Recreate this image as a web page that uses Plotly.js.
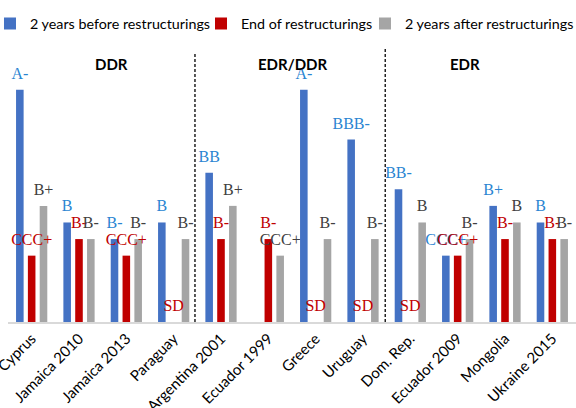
<!DOCTYPE html>
<html>
<head>
<meta charset="utf-8">
<script src="https://cdn.plot.ly/plotly-3.0.1.min.js"></script>
<style>html,body{margin:0;padding:0;background:#fff;}#chart{width:576px;height:408px;}</style>
</head>
<body>
<div id="chart"></div>
<script>
// Categories (restructuring episodes)
const categories = ['Cyprus','Jamaica 2010','Jamaica 2013','Paraguay','Argentina 2001','Ecuador 1999','Greece','Uruguay','Dom. Rep.','Ecuador 2009','Mongolia','Ukraine 2015'];

// Ratings (labels) per series
const ratingsBefore = ['A-','B','B-','B','BB','','A-','BBB-','BB-','CCC+','B+','B'];
const ratingsEnd    = ['CCC+','B-','CCC+','SD','B-','B-','SD','SD','SD','CCC+','B-','B-'];
const ratingsAfter  = ['B+','B-','B-','B-','B+','CCC+','B-','B-','B','B-','B','B-'];

// Numeric rating levels (notches above SD)
const valuesBefore = [14,6,5,6,9,null,14,11,8,4,7,6];
const valuesEnd    = [4,5,4,0,5,5,0,0,0,4,5,5];
const valuesAfter  = [7,5,5,5,7,4,5,5,6,5,6,5];

const seriesNames = ['2 years before restructurings','End of restructurings','2 years after restructurings'];
const groupNames = ['DDR','EDR/DDR','EDR'];

const barColors = ['#4472C4','#C00000','#A5A5A5'];
const labelColors = ['#2A85D2','#C00000','#404040'];

const vals = [valuesBefore, valuesEnd, valuesAfter];
const labs = [ratingsBefore, ratingsEnd, ratingsAfter];
const legendIds = ['legend','legend2','legend3'];

const traces = [];
for (let i = 0; i < 3; i++) {
  traces.push({
    type: 'bar', x: categories, y: vals[i], name: seriesNames[i],
    offsetgroup: 'g' + i, marker: {color: barColors[i]}, hoverinfo: 'skip',
    legend: legendIds[i]
  });
}
// label carriers: transparent slivers sitting on top of each bar, text placed above
const LABEL_LIFT = 0.3;
const labelFont = (c) => ({family: 'Liberation Serif, Times New Roman, serif', size: 16, color: c});
for (let i = 0; i < 3; i++) {
  traces.push({
    type: 'bar', x: categories,
    y: vals[i].map(v => v === null ? null : LABEL_LIFT),
    base: vals[i].map(v => v === null ? null : v),
    offsetgroup: 'g' + i, showlegend: false, hoverinfo: 'skip',
    marker: {color: 'rgba(0,0,0,0)'},
    text: labs[i], textposition: 'outside', constraintext: 'none', cliponaxis: false,
    textfont: labelFont(labelColors[i]), outsidetextfont: labelFont(labelColors[i])
  });
}

const legendFont = {family: 'Lato, sans-serif', size: 14.3, color: '#000'};
const mkLegend = (x) => ({orientation: 'h', xref: 'paper', yref: 'container',
  x: x, xanchor: 'left', y: 0.942, yanchor: 'middle', font: legendFont, itemwidth: 30,
  bgcolor: 'rgba(0,0,0,0)', borderwidth: 0});

const layout = {
  width: 576, height: 408,
  margin: {l: 8, r: 0, t: 40, b: 86, autoexpand: false},
  paper_bgcolor: '#fff', plot_bgcolor: '#fff',
  barmode: 'group', bargap: 0.25, bargroupgap: 0.36,
  font: {family: 'Lato, sans-serif', color: '#000'},
  showlegend: true,
  legend: mkLegend(-0.0317),
  legend2: mkLegend(0.3398),
  legend3: mkLegend(0.6285),
  xaxis: {type: 'category', tickangle: -45, showline: true, linecolor: '#D9D9D9', linewidth: 2,
          ticks: '', ticklabelstandoff: 0,
          tickfont: {family: 'Lato, sans-serif', size: 15, color: '#000'}, showgrid: false},
  yaxis: {range: [0, 17], showticklabels: false, showgrid: false, zeroline: false, showline: false, ticks: ''},
  shapes: [
    {type: 'line', xref: 'x', yref: 'paper', x0: 3.45, x1: 3.45, y0: 0, y1: 0.955,
     line: {color: '#222', width: 1.5, dash: '3px,2px'}},
    {type: 'line', xref: 'x', yref: 'paper', x0: 7.47, x1: 7.47, y0: 0, y1: 0.97,
     line: {color: '#222', width: 1.5, dash: '3px,2px'}}
  ],
  annotations: [
    {text: '<b>' + groupNames[0] + '</b>', xref: 'x', yref: 'paper', x: 1.69, y: 0.955, showarrow: false, font: {size: 15, family: 'Lato, sans-serif'}},
    {text: '<b>' + groupNames[1] + '</b>', xref: 'x', yref: 'paper', x: 5.5, y: 0.955, showarrow: false, font: {size: 15, family: 'Lato, sans-serif'}},
    {text: '<b>' + groupNames[2] + '</b>', xref: 'x', yref: 'paper', x: 9.16, y: 0.955, showarrow: false, font: {size: 15, family: 'Lato, sans-serif'}}
  ]
};

Plotly.newPlot('chart', traces, layout, {staticPlot: true, displayModeBar: false});
</script>
</body>
</html>
